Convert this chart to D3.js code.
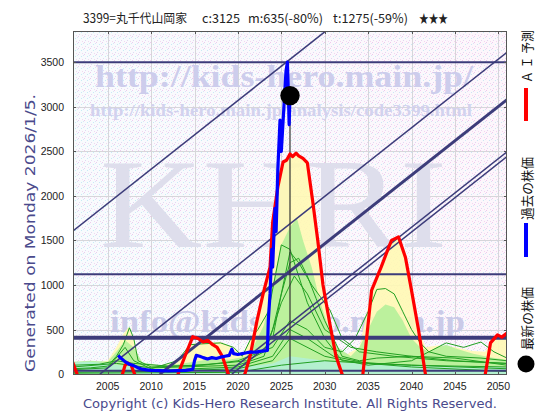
<!DOCTYPE html>
<html><head><meta charset="utf-8">
<script src="https://cdn.jsdelivr.net/npm/d3@7"></script>
<style>body{margin:0;background:#fff;} svg{display:block}</style>
</head><body><svg id="c" width="560" height="420"></svg>
<script>
// ---------- DATA ----------
const xTicks = [2005, 2010, 2015, 2020, 2025, 2030, 2035, 2040, 2045, 2050];
const yTicks = [0, 500, 1000, 1500, 2000, 2500, 3000, 3500];
const titleParts = ["3399=丸千代山岡家", "c:3125", "m:635(-80%)", "t:1275(-59%)", "★★★"];
const legendLabels = ["Ａ Ｉ 予測", "過去の株価", "最新の株価"];
const latest = [2026.0, 3125];
const nowYear = 2026.0;
const hLevels = [3500, 1120, 408, 38];
const trendLines = [
  [2001, 1606, 2030.0, 3840],
  [2004.1, 0, 2051, 3611],
  [2011.0, 0, 2051, 3080],
  [2018.6, 0, 2051, 2495],
  [2019.3, 0, 2051, 2441]
];
const pastPrice = [
  [2006.2,210],[2006.5,180],[2007,140],[2007.5,110],[2008,95],[2008.5,70],[2009,55],[2009.5,48],
  [2010,42],[2011,38],[2012,35],[2013,40],[2014,42],[2014.8,55],[2015,150],[2015.2,210],[2015.6,200],
  [2016,185],[2016.5,170],[2017,185],[2017.5,175],[2018,190],[2018.5,200],[2019,210],[2019.3,280],
  [2019.5,230],[2020,220],[2020.5,230],[2021,240],[2021.5,250],[2022,245],[2022.5,255],[2023,260],
  [2023.4,265],[2023.5,600],[2023.7,900],[2023.9,1400],[2024.0,1200],[2024.27,1860],[2024.4,1600],
  [2024.6,2300],[2024.85,2850],[2025.0,2500],[2025.3,3000],[2025.54,3400],[2025.7,3500],[2025.8,3200],
  [2025.9,2800],[2026.0,3125]
];
const aiForecast = [
  [2000.9,140],[2001.0,125],[2001.7,-60],null,
  [2006.5,-60],[2006.7,0],[2007.0,100],[2007.3,125],[2007.7,100],[2008.1,0],[2008.3,-60],null,
  [2012.9,-60],[2013.1,0],[2013.9,200],[2014.8,420],[2015.4,400],[2016.0,360],[2016.5,380],[2017.1,330],
  [2017.6,300],[2018.2,200],[2018.9,0],[2019.1,-60],null,
  [2020.6,-60],[2020.8,0],[2021.4,200],[2022.2,600],[2022.9,900],[2023.7,1200],[2024.0,1700],[2024.6,2100],
  [2025.2,2380],[2025.6,2400],[2026.0,2470],[2026.3,2440],[2026.7,2480],[2027.0,2450],[2027.5,2420],
  [2028.0,2370],[2028.6,1950],[2029.2,1500],[2029.8,1000],[2030.6,560],[2031.3,200],[2032.0,0],[2032.2,-60],null,
  [2034.2,-60],[2034.4,0],[2035.4,940],[2036.5,1200],[2037.4,1430],[2037.7,1500],[2038.5,1540],
  [2039.3,1310],[2040.0,940],[2040.8,500],[2041.6,0],[2041.8,-60],null,
  [2048.3,-60],[2048.5,0],[2049.1,350],[2049.9,440],[2050.4,415],[2051,460]
];
const yellowArea = [
  [2001,110],[2003,120],[2005,150],[2006,300],[2006.8,450],[2007.4,530],[2008,380],[2008.5,200],[2009,110],
  [2011,100],[2013,130],[2014.5,340],[2016,350],[2018,360],[2019.5,300],[2020.5,200],[2021.5,400],
  [2022.2,600],[2022.9,900],[2023.7,1200],[2024.0,1700],[2024.6,2100],[2025.2,2380],[2025.6,2400],
  [2026.0,2470],[2026.3,2440],[2026.7,2480],[2027.0,2450],[2027.5,2420],[2028.0,2370],[2028.6,1950],
  [2029.2,1500],[2029.8,1000],[2030.6,560],[2031.3,300],[2032.5,220],[2034,300],[2035.4,940],
  [2036.5,1200],[2037.4,1430],[2037.7,1500],[2038.5,1540],[2039.3,1310],[2040.0,940],[2040.8,500],
  [2041.6,300],[2043,320],[2045,300],[2047,260],[2048.5,250],[2049.1,350],[2049.9,440],[2050.4,415],[2051,460]
];
const greenArea = [
  [2001,140],[2003,150],[2005,140],[2006,250],[2007,380],[2008,300],[2009,130],[2011,100],[2013,110],
  [2015,140],[2017,170],[2019,160],[2021,200],[2022,350],[2023,550],[2024,1000],[2025,1450],[2026,1650],
  [2026.8,1750],[2027.5,1500],[2028.5,1200],[2029.5,800],[2030.5,500],[2031.5,300],[2033,200],[2034,300],
  [2035,500],[2036,700],[2037,780],[2038,750],[2039,600],[2040,400],[2041,300],[2042,250],[2043,300],
  [2044,330],[2045,290],[2047,230],[2049,190],[2051,160]
];
const cyanArea = [
  [2001,130],[2003,140],[2005,120],[2007,90],[2010,60],[2015,60],[2020,70],[2024,120],[2026,200],
  [2030,150],[2035,110],[2040,100],[2045,90],[2051,80]
];
const scenario1 = [[2001,60],[2003,70],[2005,90],[2006,200],[2006.8,330],[2007.5,520],[2008,400],[2008.5,150],[2010,80],[2013,90],[2015,100],[2018,120],[2021,150],[2023,250],[2024,500],[2025,900],[2026,1250],[2027,1300],[2028,1100],[2029,850],[2030,600],[2031,400],[2032,200],[2034,150],[2036,180],[2040,200],[2045,150],[2051,120]];
const scenario2 = [[2001,100],[2004,110],[2006,150],[2008,120],[2012,90],[2016,100],[2020,150],[2024,300],[2026,600],[2028,500],[2030,300],[2032,250],[2033.5,400],[2035,700],[2036,950],[2037,960],[2038,900],[2039,700],[2040,500],[2041,350],[2042,250],[2044,200],[2048,180],[2051,150]];
const scenario3 = [[2001,50],[2005,70],[2007,300],[2008,150],[2010,60],[2013,150],[2014.5,330],[2016,340],[2018,350],[2019.5,300],[2020.5,200],[2021.5,400],[2022.3,500],[2023.5,700],[2025,1450],[2026,1400],[2027,1100],[2028,800],[2030,400],[2032,150],[2036,120],[2040,100],[2045,90],[2051,80]];
const scenario4 = [[2001,20],[2010,30],[2020,60],[2024,150],[2026,400],[2030,200],[2035,100],[2040,150],[2042,250],[2044,350],[2046,300],[2048,360],[2049.5,250],[2051,180]];
const scenario5 = [[2001,40],[2010,40],[2020,80],[2024,200],[2026,500],[2028,400],[2031,200],[2035,120],[2040,100],[2051,60]];
const scenario6 = [[2001,80],[2006,120],[2010,70],[2020,100],[2023,200],[2025,800],[2026.5,1100],[2028,900],[2030,500],[2033,300],[2036,250],[2040,200],[2045,180],[2051,100]];
const scenario7 = [[2001,10],[2020,20],[2025,100],[2030,150],[2035,120],[2040,80],[2051,30]];
const scenario8 = [[2024,400],[2025,900],[2026,1370],[2027,1250],[2028.5,1000],[2030.6,720],[2032,400],[2034,250],[2038,200],[2044,150],[2051,120]];
const scenarios = [scenario1, scenario2, scenario3, scenario4, scenario5, scenario6, scenario7, scenario8];

// ---------- CHART ----------
const svg = d3.select("#c");
const L = 73, R = 507, T = 31, B = 375;
const x = d3.scaleLinear().domain([2001, 2051]).range([L, R]);
const y = d3.scaleLinear().domain([-10, 3850]).range([B, T]);
const navy = "#3c3c7a";

const defs = svg.append("defs");
const pat = defs.append("pattern").attr("id", "dots").attr("width", 6).attr("height", 6)
  .attr("patternUnits", "userSpaceOnUse");
pat.append("rect").attr("width", 6).attr("height", 6).attr("fill", "#fefcfe");
[[0,0,"#f0c0ec"],[3,2,"#c0e8f4"],[1,4,"#e0d0f0"],[4,5,"#f6d0ee"],[5,1,"#d4e4f4"]]
  .forEach(([a,b,c]) => pat.append("rect").attr("x", a).attr("y", b).attr("width", 1).attr("height", 1).attr("fill", c));
const grad = defs.append("linearGradient").attr("id", "tint");
grad.append("stop").attr("offset", "0%").attr("stop-color", "#e0f6fa").attr("stop-opacity", 0.2);
grad.append("stop").attr("offset", "100%").attr("stop-color", "#f8e0f2").attr("stop-opacity", 0.2);
defs.append("clipPath").attr("id", "clip").append("rect")
  .attr("x", L).attr("y", T).attr("width", R - L).attr("height", B - T);

svg.append("rect").attr("x", L).attr("y", T).attr("width", R - L).attr("height", B - T).attr("fill", "url(#dots)");
svg.append("rect").attr("x", L).attr("y", T).attr("width", R - L).attr("height", B - T).attr("fill", "url(#tint)");

// grid
const grid = svg.append("g").attr("stroke", "#d6d6da").attr("stroke-width", 1);
grid.selectAll(".vx").data(xTicks).join("line")
  .attr("x1", d => Math.round(x(d)) + 0.5).attr("x2", d => Math.round(x(d)) + 0.5).attr("y1", T).attr("y2", B);
grid.selectAll(".hy").data(yTicks).join("line")
  .attr("y1", d => Math.round(y(d)) + 0.5).attr("y2", d => Math.round(y(d)) + 0.5).attr("x1", L).attr("x2", R);

// watermarks
const wm = svg.append("g").attr("font-family", "'Liberation Serif', 'DejaVu Serif', serif").attr("font-weight", "bold");
wm.append("text").attr("x", 95).attr("y", 87).attr("font-size", 32).attr("fill", "#cdcdec")
  .attr("textLength", 378).attr("lengthAdjust", "spacingAndGlyphs").text("http://kids-hero.main.jp/");
wm.append("text").attr("x", 90).attr("y", 116).attr("font-size", 17).attr("fill", "#d2d2ee")
  .attr("textLength", 382).attr("lengthAdjust", "spacingAndGlyphs").text("http://kids-hero.main.jp/analysis/code3399.html");
wm.append("text").attr("x", 100).attr("y", 247).attr("font-size", 128).attr("font-weight", "normal").attr("fill", "#dedeec")
  .attr("textLength", 347).attr("lengthAdjust", "spacingAndGlyphs").text("KHRI");
wm.append("text").attr("x", 110).attr("y", 332).attr("font-size", 31).attr("fill", "#cacae8")
  .attr("textLength", 355).attr("lengthAdjust", "spacingAndGlyphs").text("info@kids-hero.main.jp");

const plot = svg.append("g").attr("clip-path", "url(#clip)");
const area = d3.area().x(d => x(d[0])).y0(y(-10)).y1(d => y(d[1])).curve(d3.curveLinear);
plot.append("path").datum(yellowArea).attr("d", area).attr("fill", "#fff8b4").attr("fill-opacity", 0.9);
plot.append("path").datum(greenArea).attr("d", area).attr("fill", "#b0f098").attr("fill-opacity", 0.85);
plot.append("path").datum(cyanArea).attr("d", area).attr("fill", "#b0f0dc").attr("fill-opacity", 0.8);

const line = d3.line().defined(d => d !== null).x(d => x(d[0])).y(d => y(d[1]));
plot.selectAll(".sc").data(scenarios).join("path")
  .attr("d", line).attr("fill", "none").attr("stroke", "#22a022").attr("stroke-width", 1);

// horizontal levels
const hW = [2, 2, 4, 2];
plot.selectAll(".hl").data(hLevels).join("line")
  .attr("x1", L).attr("x2", R).attr("y1", d => y(d)).attr("y2", d => y(d))
  .attr("stroke", navy).attr("stroke-width", (d, i) => hW[i]);
// trend lines
const tW = [1.5, 1.5, 3, 1.5, 1.5];
plot.selectAll(".tl").data(trendLines).join("line")
  .attr("x1", d => x(d[0])).attr("y1", d => y(d[1])).attr("x2", d => x(d[2])).attr("y2", d => y(d[3]))
  .attr("stroke", navy).attr("stroke-width", (d, i) => tW[i]);

// now line
plot.append("line").attr("x1", x(nowYear)).attr("x2", x(nowYear)).attr("y1", B).attr("y2", y(latest[1]))
  .attr("stroke", "#333").attr("stroke-width", 1.2);

plot.append("path").datum(aiForecast).attr("d", line).attr("fill", "none")
  .attr("stroke", "#ff0000").attr("stroke-width", 3.2).attr("stroke-linejoin", "round");
plot.append("path").datum(pastPrice).attr("d", line).attr("fill", "none")
  .attr("stroke", "#0000ff").attr("stroke-width", 3.2).attr("stroke-linejoin", "round");
svg.append("circle").attr("cx", x(latest[0])).attr("cy", y(latest[1])).attr("r", 9.7).attr("fill", "#000");

// frame
svg.append("rect").attr("x", L + 0.5).attr("y", T + 0.5).attr("width", R - L - 1).attr("height", B - T - 1)
  .attr("fill", "none").attr("stroke", "#555").attr("stroke-width", 1);
const tk = svg.append("g").attr("stroke", "#555");
xTicks.forEach(d => {
  tk.append("line").attr("x1", Math.round(x(d)) + 0.5).attr("x2", Math.round(x(d)) + 0.5).attr("y1", T).attr("y2", T + 3);
  tk.append("line").attr("x1", Math.round(x(d)) + 0.5).attr("x2", Math.round(x(d)) + 0.5).attr("y1", B).attr("y2", B - 3);
});
yTicks.forEach(d => {
  tk.append("line").attr("y1", Math.round(y(d)) + 0.5).attr("y2", Math.round(y(d)) + 0.5).attr("x1", L).attr("x2", L + 3);
  tk.append("line").attr("y1", Math.round(y(d)) + 0.5).attr("y2", Math.round(y(d)) + 0.5).attr("x1", R).attr("x2", R - 3);
});

// axis labels
const fnt = "'Liberation Sans', Arial, sans-serif";
svg.append("g").selectAll("text").data(yTicks).join("text")
  .attr("x", 64).attr("y", d => y(d) + 4).attr("text-anchor", "end").attr("font-family", fnt)
  .attr("font-size", 10.5).attr("fill", "#222").text(d => d);
svg.append("g").selectAll("text").data(xTicks).join("text")
  .attr("x", d => x(d)).attr("y", 390).attr("text-anchor", "middle").attr("font-family", fnt)
  .attr("font-size", 10.5).attr("fill", "#222").text(d => d);

// title
const tX = [83, 202, 248, 333, 419], tWid = [104, 38, 75, 75, 29];
const jp = "'Noto Sans CJK JP', 'Noto Sans', sans-serif";
titleParts.forEach((t, i) => {
  svg.append("text").attr("x", tX[i]).attr("y", 23).attr("font-family", jp).attr("font-size", 12.5)
    .attr("fill", "#222").attr("textLength", tWid[i]).attr("lengthAdjust", "spacingAndGlyphs").text(t);
});

// left label
svg.append("text").attr("transform", "translate(35,233) rotate(-90)").attr("text-anchor", "middle")
  .attr("font-family", "'DejaVu Sans', sans-serif").attr("font-size", 13.5).attr("fill", "#4a4a8c")
  .attr("textLength", 278).attr("lengthAdjust", "spacingAndGlyphs").text("Generated on Monday 2026/1/5.");
// copyright
svg.append("text").attr("x", 83).attr("y", 408)
  .attr("font-family", "'DejaVu Sans', sans-serif").attr("font-size", 13).attr("fill", "#4a4a8c")
  .attr("textLength", 414).attr("lengthAdjust", "spacingAndGlyphs")
  .text("Copyright (c) Kids-Hero Research Institute. All Rights Reserved.");

// legend (vertical)
const lg = svg.append("g");
const lgText = [[83, 30], [220, 157], [350, 287]];
legendLabels.forEach((t, i) => {
  lg.append("text").attr("transform", `translate(532,${lgText[i][0]}) rotate(-90)`)
    .attr("font-family", jp).attr("font-size", 13).attr("fill", "#111")
    .attr("textLength", lgText[i][0] - lgText[i][1]).attr("lengthAdjust", "spacingAndGlyphs").text(t);
});
lg.append("rect").attr("x", 524).attr("y", 88).attr("width", 4).attr("height", 33).attr("fill", "#ff0000");
lg.append("rect").attr("x", 524).attr("y", 223).attr("width", 4).attr("height", 34).attr("fill", "#0000ff");
lg.append("circle").attr("cx", 526).attr("cy", 364).attr("r", 8.5).attr("fill", "#000");
</script></body></html>
